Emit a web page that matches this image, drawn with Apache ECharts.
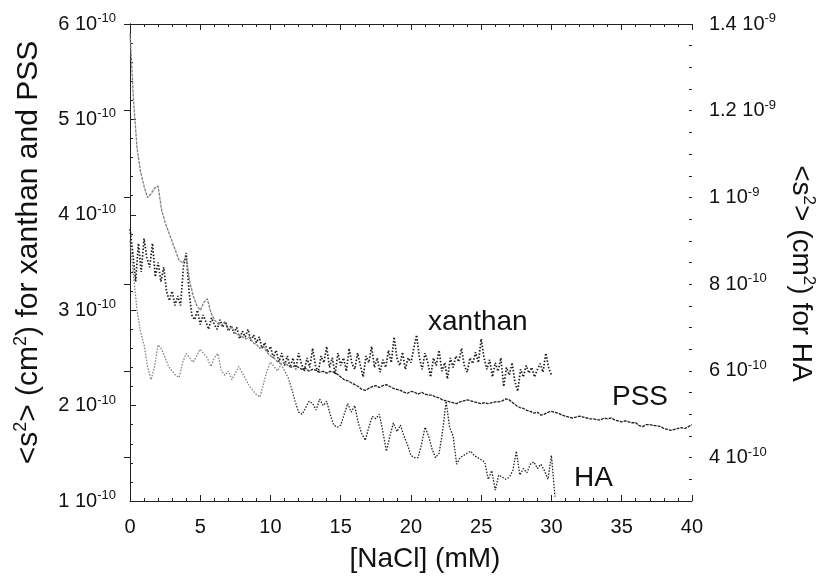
<!DOCTYPE html>
<html>
<head>
<meta charset="utf-8">
<script src="https://cdn.jsdelivr.net/npm/echarts@6/dist/echarts.min.js"></script>
<style>
html,body{margin:0;padding:0;background:#fff;}
#chart{width:825px;height:583px;}
</style>
</head>
<body>
<div id="chart"></div>
<script>
// <s^2> values in units of 1e-10 cm^2; each series sampled on a regular NaCl grid (mM)
var xTicks = [0, 5, 10, 15, 20, 25, 30, 35, 40];
var leftTicks = [1, 2, 3, 4, 5, 6];
var rightTicks = [4, 6, 8, 10, 12, 14];

var xanthanStep = 0.2;
var xanthan = [
  3.85,3.6,3.3,3.7,3.4,3.75,3.55,3.45,3.7,3.35,
  3.5,3.3,3.45,3.2,3.1,3.2,3.05,3.15,3.05,3.45,
  3.6,3.2,2.95,2.9,3.0,2.85,2.95,2.88,2.8,2.92,
  2.85,2.8,2.9,2.82,2.88,2.78,2.84,2.76,2.82,2.7,
  2.78,2.72,2.8,2.68,2.74,2.66,2.72,2.6,2.66,2.56,
  2.62,2.5,2.58,2.46,2.55,2.42,2.52,2.4,2.5,2.38,
  2.55,2.44,2.36,2.5,2.4,2.6,2.42,2.35,2.52,2.45,
  2.62,2.4,2.5,2.33,2.55,2.42,2.5,2.36,2.6,2.44,
  2.38,2.55,2.42,2.3,2.52,2.45,2.62,2.4,2.5,2.35,
  2.48,2.4,2.58,2.45,2.72,2.5,2.42,2.56,2.38,2.5,
  2.45,2.6,2.74,2.5,2.38,2.55,2.45,2.3,2.5,2.42,
  2.58,2.36,2.45,2.28,2.5,2.4,2.52,2.46,2.6,2.42,
  2.35,2.5,2.44,2.56,2.45,2.7,2.5,2.38,2.48,2.3,
  2.45,2.36,2.5,2.2,2.4,2.32,2.45,2.25,2.15,2.38,
  2.3,2.42,2.34,2.4,2.3,2.38,2.44,2.35,2.55,2.4,
  2.32];

var pssStep = 0.25;
var pss = [
  5.9,5.2,4.7,4.45,4.3,4.18,4.22,4.28,4.3,4.05,
  3.92,3.82,3.72,3.62,3.52,3.5,3.55,3.3,3.15,3.05,
  3.0,3.08,3.12,2.98,2.9,2.86,2.84,2.88,2.8,2.82,
  2.76,2.74,2.72,2.7,2.72,2.66,2.64,2.6,2.62,2.56,
  2.52,2.5,2.46,2.44,2.45,2.42,2.4,2.42,2.4,2.38,
  2.39,2.36,2.38,2.37,2.35,2.36,2.34,2.36,2.35,2.33,
  2.3,2.27,2.26,2.24,2.22,2.2,2.17,2.16,2.18,2.2,
  2.21,2.19,2.21,2.22,2.2,2.18,2.17,2.16,2.14,2.13,
  2.15,2.14,2.12,2.14,2.12,2.11,2.11,2.09,2.08,2.06,
  2.05,2.04,2.03,2.02,2.04,2.05,2.06,2.05,2.04,2.03,
  2.02,2.03,2.02,2.03,2.04,2.04,2.05,2.07,2.06,2.03,
  2.0,1.98,1.97,1.95,1.94,1.92,1.93,1.9,1.91,1.93,
  1.94,1.93,1.92,1.9,1.89,1.88,1.87,1.88,1.89,1.88,
  1.87,1.86,1.86,1.85,1.85,1.87,1.86,1.87,1.85,1.84,
  1.83,1.84,1.83,1.82,1.82,1.79,1.78,1.8,1.8,1.79,
  1.79,1.78,1.76,1.75,1.74,1.75,1.76,1.77,1.76,1.78,
  1.8];

var haStep = 0.25;
var ha = [
  9.0,8.2,7.4,6.9,6.6,6.1,5.8,6.1,6.6,6.5,
  6.3,6.1,6.0,5.9,5.85,6.2,6.4,6.3,6.2,6.35,
  6.5,6.4,6.3,6.1,6.3,6.4,6.0,5.9,6.0,5.8,
  5.95,6.1,5.95,5.8,5.65,5.55,5.45,5.4,5.7,6.0,
  6.2,6.1,6.0,6.15,6.0,5.85,5.6,5.3,5.05,5.0,
  5.15,5.3,5.25,5.1,5.35,5.2,5.3,5.0,4.75,4.7,
  4.75,5.0,5.25,5.05,5.2,4.8,4.55,4.4,4.7,4.95,
  4.9,5.0,4.6,4.15,4.5,4.8,4.6,4.75,4.5,4.3,
  4.05,4.0,4.0,4.3,4.7,4.5,4.2,4.0,4.1,4.6,
  5.3,4.7,4.5,3.85,4.0,4.05,4.1,4.15,4.05,4.0,
  3.95,3.9,3.5,3.7,3.25,3.6,3.55,3.5,3.55,3.7,
  4.15,3.6,3.75,3.65,3.85,3.9,3.75,3.85,3.7,3.5,
  4.05,3.1];

function pairs(arr, step){ return arr.map(function(v,i){ return [+(i*step).toFixed(2), v]; }); }
var FONT = '"Liberation Sans", Arial, sans-serif';
var AX = '#222';

// gray at low salt, dark at higher salt (the original trace gets denser)
function fade(frac){
  return new echarts.graphic.LinearGradient(0, 0, 1, 0, [
    {offset: 0, color: '#808080'}, {offset: frac, color: '#808080'},
    {offset: Math.min(1, frac + 0.04), color: '#1e1e1e'}, {offset: 1, color: '#1e1e1e'}
  ]);
}

function sciLabel(v){
  var mant, exp;
  if (v >= 10) { mant = String(+(v/10).toFixed(1)); exp = '-9'; }
  else { mant = String(v); exp = '-10'; }
  return '{m|' + mant + ' 10}{e|' + exp + '}';
}
var richLbl = {
  m: {fontSize: 20, fontFamily: FONT, color: '#111', lineHeight: 24},
  e: {fontSize: 13, fontFamily: FONT, color: '#111', verticalAlign: 'top', lineHeight: 14}
};
function richTitle(sz){
  return {
    t: {fontSize: sz, fontFamily: FONT, color: '#111', lineHeight: sz + 4},
    s: {fontSize: Math.round(sz*0.6), fontFamily: FONT, color: '#111', verticalAlign: 'top', lineHeight: Math.round(sz*0.6)+1}
  };
}

var chart = echarts.init(document.getElementById('chart'), null, {renderer: 'canvas'});
var baseX = {
  type: 'value', min: 0, max: 40, interval: 5,
  axisLine: {show: true, lineStyle: {color: AX, width: 1}},
  axisTick: {show: true, inside: true, length: 6, lineStyle: {color: AX}},
  minorTick: {show: true, splitNumber: 5, length: 3, lineStyle: {color: AX}},
  splitLine: {show: false}
};
chart.setOption({
  animation: false,
  backgroundColor: '#fff',
  grid: {left: 130, right: 127, top: 24, bottom: 82, containLabel: false},
  xAxis: [
    Object.assign({}, baseX, {
      position: 'bottom',
      name: '[NaCl] (mM)', nameLocation: 'middle', nameGap: 44,
      nameTextStyle: {fontSize: 28, fontFamily: FONT, color: '#111', padding: [0, 0, 0, 28]},
      axisLabel: {show: true, fontSize: 20, fontFamily: FONT, color: '#111', margin: 16,
        customValues: xTicks}
    }),
    Object.assign({}, baseX, {position: 'top', axisLabel: {show: false}})
  ],
  yAxis: [
    {
      type: 'value', position: 'left', min: 1, max: 6, interval: 1,
      name: '{t|<s}{s|2}{t|> (cm}{s|2}{t|) for xanthan and PSS}',
      nameLocation: 'middle', nameGap: 84, nameRotate: 90,
      nameTextStyle: {rich: richTitle(30), padding: [0, 0, 0, 20]},
      axisLine: {show: true, lineStyle: {color: AX}},
      axisTick: {show: true, inside: true, length: 6, lineStyle: {color: AX}},
      minorTick: {show: true, splitNumber: 5, length: 3, lineStyle: {color: AX}},
      splitLine: {show: false},
      axisLabel: {margin: 14, formatter: function(v){ return leftTicks.indexOf(v) >= 0 ? sciLabel(v) : ''; }, rich: richLbl}
    },
    {
      type: 'value', position: 'right', min: 3, max: 14, interval: 1,
      name: '{t|<s}{s|2}{t|> (cm}{s|2}{t|) for HA}',
      nameLocation: 'middle', nameGap: 89, nameRotate: -90,
      nameTextStyle: {rich: richTitle(28), padding: [0, 0, 0, 22]},
      axisLine: {show: true, lineStyle: {color: AX}},
      axisTick: {show: true, inside: true, length: 6, lineStyle: {color: AX}, customValues: rightTicks},
      splitLine: {show: false},
      axisLabel: {margin: 17, customValues: rightTicks, formatter: function(v){ return sciLabel(v); }, rich: richLbl, align: 'left'}
    },
    {
      type: 'value', position: 'right', min: 3, max: 14, interval: 0.5,
      axisLine: {show: false},
      axisTick: {show: true, inside: true, length: 3, lineStyle: {color: AX}},
      axisLabel: {show: false}, splitLine: {show: false}
    }
  ],
  series: [
    {name: 'xanthan', type: 'line', xAxisIndex: 0, yAxisIndex: 0, data: pairs(xanthan, xanthanStep),
      showSymbol: false, lineStyle: {color: '#1a1a1a', width: 1.7, type: [1.5, 1.8]}},
    {name: 'PSS', type: 'line', xAxisIndex: 0, yAxisIndex: 0, data: pairs(pss, pssStep),
      showSymbol: false, lineStyle: {color: fade(0.27), width: 1.3, type: [3, 1]}},
    {name: 'HA', type: 'line', xAxisIndex: 0, yAxisIndex: 1, data: pairs(ha, haStep),
      showSymbol: false, lineStyle: {color: fade(0.36), width: 1.3, type: [1.5, 1.5]}}
  ],
  graphic: [
    {type: 'text', x: 428, y: 322, silent: true, style: {text: 'xanthan', font: '28px ' + FONT, fill: '#111', align: 'left', verticalAlign: 'middle'}},
    {type: 'text', x: 612, y: 397, silent: true, style: {text: 'PSS', font: '28px ' + FONT, fill: '#111', align: 'left', verticalAlign: 'middle'}},
    {type: 'text', x: 574, y: 478, silent: true, style: {text: 'HA', font: '28px ' + FONT, fill: '#111', align: 'left', verticalAlign: 'middle'}}
  ]
});
</script>
</body>
</html>
